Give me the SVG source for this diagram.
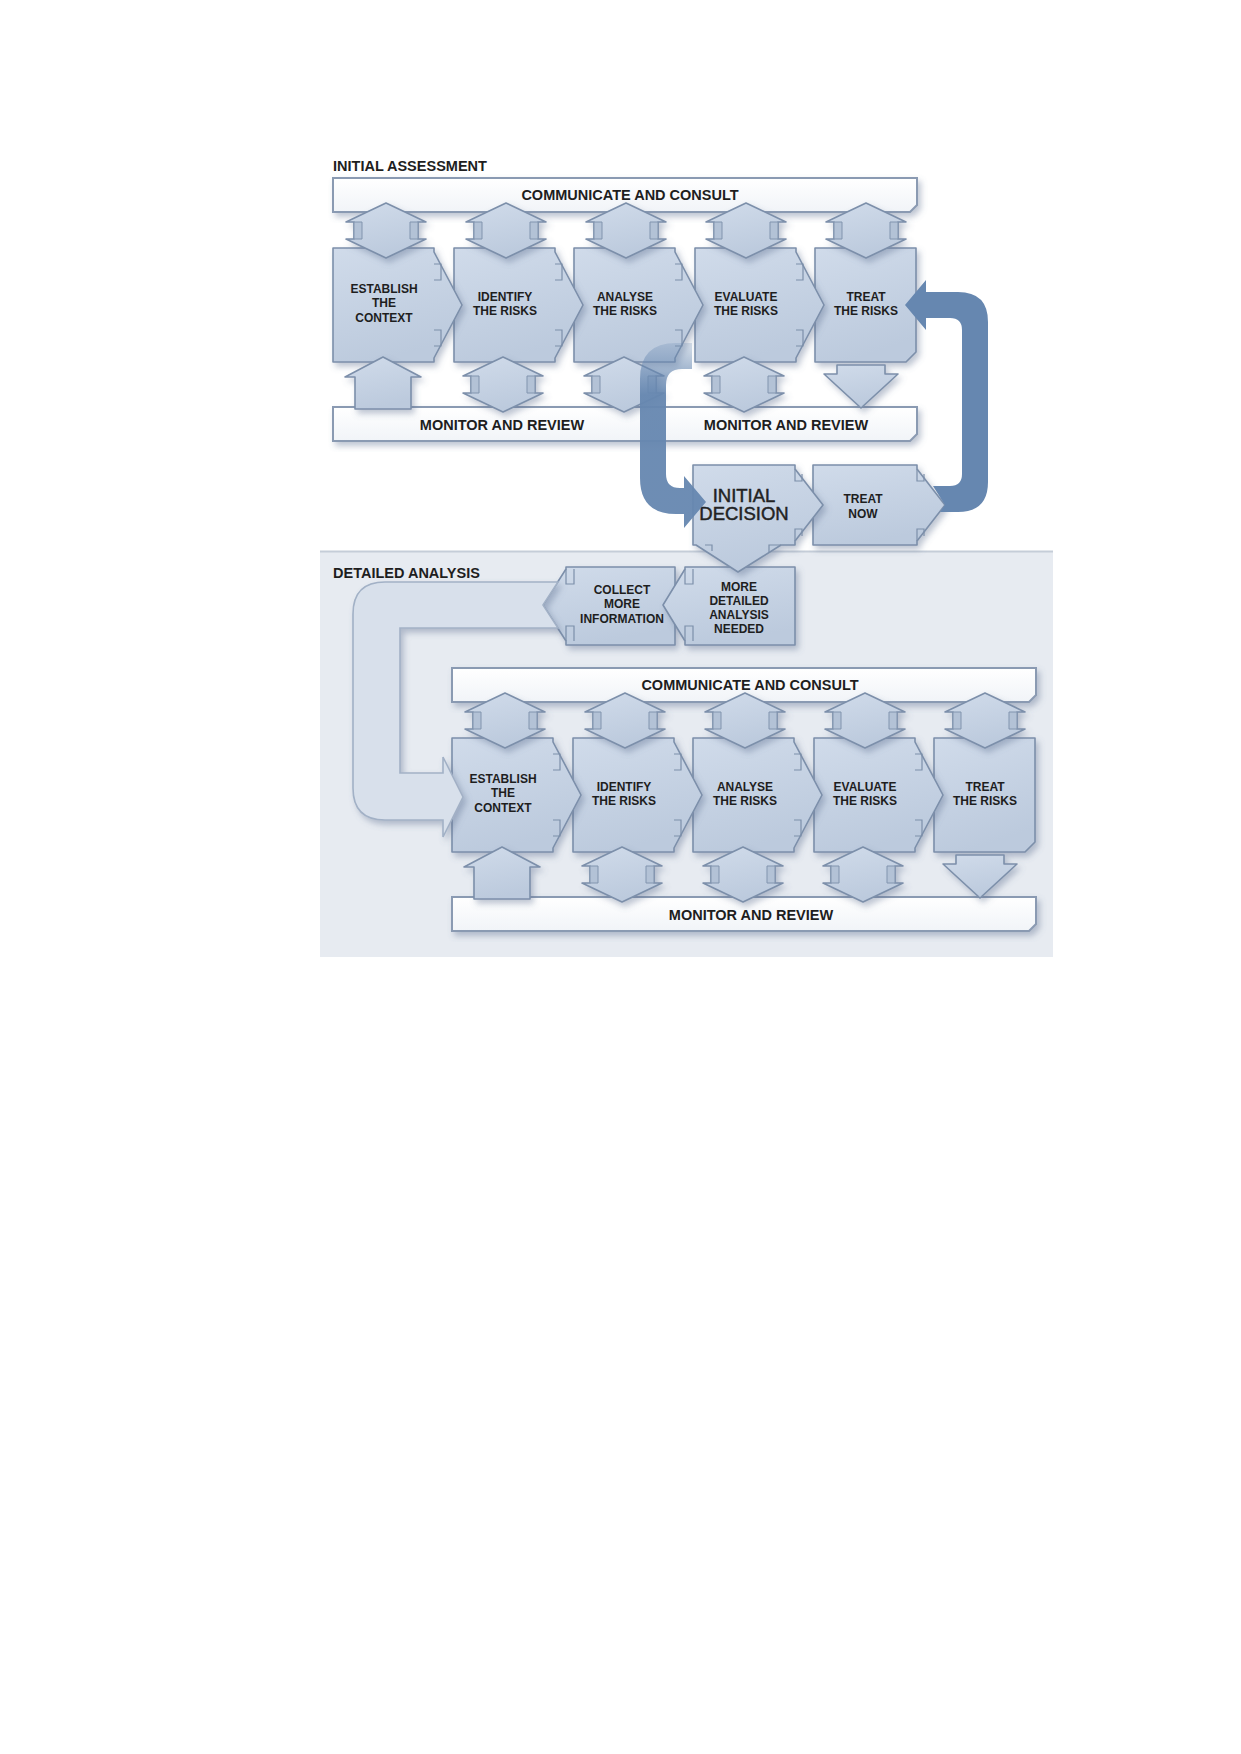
<svg xmlns="http://www.w3.org/2000/svg" xmlns:xlink="http://www.w3.org/1999/xlink" width="1241" height="1754" viewBox="0 0 1241 1754">
<defs>
  <style>
    .box{fill:url(#boxGrad);stroke:#7c8faa;stroke-width:1.6;stroke-linejoin:round}
    .tab{fill:none;stroke:#7c8faa;stroke-width:1.2}
    .tabf{fill:#b3c2d6;stroke:#8194ae;stroke-width:1}
    .band{fill:url(#bandGrad);stroke:#8a9ab2;stroke-width:2}
    .sh{filter:url(#shadow)}
    .t{font-family:"Liberation Sans",Arial,sans-serif;font-weight:bold;fill:#1e1e1e;text-anchor:middle}
    .s{font-size:12px}
    .b{font-size:14.5px}
    .h{font-size:14.5px;text-anchor:start}
    .big{font-size:18.5px;font-weight:normal;fill:#222;stroke:#222;stroke-width:0.45}
    .blue{fill:#6687b0}
    .uarr{fill:#d8e0eb;stroke:#a2b1c6;stroke-width:1.6}
  </style>
  <linearGradient id="boxGrad" x1="0" y1="0" x2="0.3" y2="1">
    <stop offset="0" stop-color="#d0dbea"/>
    <stop offset="1" stop-color="#bccadd"/>
  </linearGradient>
  <linearGradient id="bandGrad" x1="0" y1="0" x2="0" y2="1">
    <stop offset="0" stop-color="#ffffff"/>
    <stop offset="1" stop-color="#f1f4f8"/>
  </linearGradient>
  <linearGradient id="fadeBlue" gradientUnits="userSpaceOnUse" x1="0" y1="340" x2="0" y2="395">
    <stop offset="0" stop-color="#6687b0" stop-opacity="0.2"/>
    <stop offset="1" stop-color="#6687b0" stop-opacity="0.95"/>
  </linearGradient>
  <filter id="shadow" x="-20%" y="-20%" width="150%" height="150%">
    <feDropShadow dx="3" dy="4" stdDeviation="3" flood-color="#5b6f8e" flood-opacity="0.4"/>
  </filter>
  <path id="procShape" d="M0,0 H101 V4 L129,57 L101,110 V114 H0 Z"/>
  <path id="procTabs" d="M101,16 H108 V32 H101 M101,82 H108 V98 H101"/>
  <path id="lastShape" d="M0,0 H101 V104 L91,114 H0 Z"/>
  <path id="dbl" d="M0,0 L40,19 H32 V36 H40 L0,55 L-40,36 H-32 V19 H-40 Z"/>
  <path id="dblTabs" d="M-32,19 H-24 V36 H-32 Z M24,19 H32 V36 H24 Z"/>
  <path id="upArr" d="M0,0 L38,20 H28 V52 H-28 V20 H-38 Z"/>
  <path id="downArr" d="M-24,0 H24 V9 H37 L0,43 L-37,9 H-24 Z"/>
  <path id="bandShape" d="M0,0 H584 V27 L577,34 H0 Z"/>
</defs>

<rect width="1241" height="1754" fill="#ffffff"/>

<!-- Detailed analysis panel -->
<g id="panel-detailed">
  <rect x="320" y="551" width="733" height="406" fill="#e7ebf1"/>
  <line x1="320" y1="551.5" x2="1053" y2="551.5" stroke="#c5cdd8" stroke-width="2"/>
</g>

<text class="t h" x="333" y="171">INITIAL ASSESSMENT</text>
<text class="t h" x="333" y="578">DETAILED ANALYSIS</text>

<!-- ===== Row 1 : Initial assessment ===== -->
<g id="ia-communicate">
  <use href="#bandShape" x="333" y="178" class="band sh"/>
  <text class="t b" x="630" y="200">COMMUNICATE AND CONSULT</text>
</g>
<g id="ia-monitor">
  <use href="#bandShape" x="333" y="407" class="band sh"/>
  <text class="t b" x="502" y="430">MONITOR AND REVIEW</text>
  <text class="t b" x="786" y="430">MONITOR AND REVIEW</text>
</g>

<g id="ia-treat">
  <use href="#lastShape" x="815" y="248" class="box sh"/>
  <text class="t s" x="866" y="301">TREAT</text>
  <text class="t s" x="866" y="315">THE RISKS</text>
</g>
<g id="ia-evaluate">
  <use href="#procShape" x="695" y="248" class="box sh"/>
  <use href="#procTabs" x="695" y="248" class="tab"/>
  <text class="t s" x="746" y="301">EVALUATE</text>
  <text class="t s" x="746" y="315">THE RISKS</text>
</g>
<g id="ia-analyse">
  <use href="#procShape" x="574" y="248" class="box sh"/>
  <use href="#procTabs" x="574" y="248" class="tab"/>
  <text class="t s" x="625" y="301">ANALYSE</text>
  <text class="t s" x="625" y="315">THE RISKS</text>
</g>
<g id="ia-identify">
  <use href="#procShape" x="454" y="248" class="box sh"/>
  <use href="#procTabs" x="454" y="248" class="tab"/>
  <text class="t s" x="505" y="301">IDENTIFY</text>
  <text class="t s" x="505" y="315">THE RISKS</text>
</g>
<g id="ia-establish">
  <use href="#procShape" x="333" y="248" class="box sh"/>
  <use href="#procTabs" x="333" y="248" class="tab"/>
  <text class="t s" x="384" y="293">ESTABLISH</text>
  <text class="t s" x="384" y="307">THE</text>
  <text class="t s" x="384" y="322">CONTEXT</text>
</g>

<g id="ia-arrows">
  <use href="#dbl" x="386" y="203" class="box sh"/><use href="#dblTabs" x="386" y="203" class="tabf"/>
  <use href="#dbl" x="506" y="203" class="box sh"/><use href="#dblTabs" x="506" y="203" class="tabf"/>
  <use href="#dbl" x="626" y="203" class="box sh"/><use href="#dblTabs" x="626" y="203" class="tabf"/>
  <use href="#dbl" x="746" y="203" class="box sh"/><use href="#dblTabs" x="746" y="203" class="tabf"/>
  <use href="#dbl" x="866" y="203" class="box sh"/><use href="#dblTabs" x="866" y="203" class="tabf"/>
  <use href="#upArr" x="383" y="357" class="box sh"/>
  <use href="#dbl" x="503" y="357" class="box sh"/><use href="#dblTabs" x="503" y="357" class="tabf"/>
  <use href="#dbl" x="624" y="357" class="box sh"/><use href="#dblTabs" x="624" y="357" class="tabf"/>
  <use href="#dbl" x="744" y="357" class="box sh"/><use href="#dblTabs" x="744" y="357" class="tabf"/>
  <use href="#downArr" x="861" y="365" class="box sh"/>
</g>

<!-- ===== Decision nodes ===== -->
<g id="collect-more-info">
  <path class="box sh" d="M675,567 V645 H566 V641 L543,605 L566,569 V567 Z"/>
  <path class="tab" d="M566,569 V584 H574 V569 M566,641 V626 H574 V641"/>
  <text class="t s" x="622" y="594">COLLECT</text>
  <text class="t s" x="622" y="608">MORE</text>
  <text class="t s" x="622" y="623">INFORMATION</text>
</g>
<g id="more-detailed">
  <path class="box sh" d="M795,567 V645 H685 V641 L663,605 L685,569 V567 Z"/>
  <path class="tab" d="M685,569 V584 H693 V569 M685,641 V626 H693 V641"/>
  <text class="t s" x="739" y="591">MORE</text>
  <text class="t s" x="739" y="605">DETAILED</text>
  <text class="t s" x="739" y="619">ANALYSIS</text>
  <text class="t s" x="739" y="633">NEEDED</text>
</g>
<g id="treat-now">
  <path class="box sh" d="M813,465 H917 V469 L945,505 L917,541 V545 H813 Z"/>
  <path class="tab" d="M917,469 V481 H924 V474 M917,541 V529 H924 V536"/>
  <text class="t s" x="863" y="503">TREAT</text>
  <text class="t s" x="863" y="518">NOW</text>
</g>
<g id="initial-decision">
  <path class="box sh" d="M693,465 H795 V469 L823,505 L795,541 V545 H781 L738,572 L696,545 H693 Z"/>
  <path class="tab" d="M795,469 V481 H802 V474 M795,541 V529 H802 V536 M781,545 H769 V552 M705,545 H712 V551"/>
  <text class="t big" x="744" y="502">INITIAL</text>
  <text class="t big" x="744" y="520">DECISION</text>
</g>

<!-- ===== Row 2 : Detailed analysis ===== -->
<g id="da-communicate">
  <use href="#bandShape" x="452" y="668" class="band sh"/>
  <text class="t b" x="750" y="690">COMMUNICATE AND CONSULT</text>
</g>
<g id="da-monitor">
  <use href="#bandShape" x="452" y="897" class="band sh"/>
  <text class="t b" x="751" y="920">MONITOR AND REVIEW</text>
</g>

<g id="da-treat">
  <use href="#lastShape" x="934" y="738" class="box sh"/>
  <text class="t s" x="985" y="791">TREAT</text>
  <text class="t s" x="985" y="805">THE RISKS</text>
</g>
<g id="da-evaluate">
  <use href="#procShape" x="814" y="738" class="box sh"/>
  <use href="#procTabs" x="814" y="738" class="tab"/>
  <text class="t s" x="865" y="791">EVALUATE</text>
  <text class="t s" x="865" y="805">THE RISKS</text>
</g>
<g id="da-analyse">
  <use href="#procShape" x="693" y="738" class="box sh"/>
  <use href="#procTabs" x="693" y="738" class="tab"/>
  <text class="t s" x="745" y="791">ANALYSE</text>
  <text class="t s" x="745" y="805">THE RISKS</text>
</g>
<g id="da-identify">
  <use href="#procShape" x="573" y="738" class="box sh"/>
  <use href="#procTabs" x="573" y="738" class="tab"/>
  <text class="t s" x="624" y="791">IDENTIFY</text>
  <text class="t s" x="624" y="805">THE RISKS</text>
</g>
<g id="da-establish">
  <use href="#procShape" x="452" y="738" class="box sh"/>
  <use href="#procTabs" x="452" y="738" class="tab"/>
  <text class="t s" x="503" y="783">ESTABLISH</text>
  <text class="t s" x="503" y="797">THE</text>
  <text class="t s" x="503" y="812">CONTEXT</text>
</g>

<g id="da-arrows">
  <use href="#dbl" x="505" y="693" class="box sh"/><use href="#dblTabs" x="505" y="693" class="tabf"/>
  <use href="#dbl" x="625" y="693" class="box sh"/><use href="#dblTabs" x="625" y="693" class="tabf"/>
  <use href="#dbl" x="745" y="693" class="box sh"/><use href="#dblTabs" x="745" y="693" class="tabf"/>
  <use href="#dbl" x="865" y="693" class="box sh"/><use href="#dblTabs" x="865" y="693" class="tabf"/>
  <use href="#dbl" x="985" y="693" class="box sh"/><use href="#dblTabs" x="985" y="693" class="tabf"/>
  <use href="#upArr" x="502" y="847" class="box sh"/>
  <use href="#dbl" x="622" y="847" class="box sh"/><use href="#dblTabs" x="622" y="847" class="tabf"/>
  <use href="#dbl" x="743" y="847" class="box sh"/><use href="#dblTabs" x="743" y="847" class="tabf"/>
  <use href="#dbl" x="863" y="847" class="box sh"/><use href="#dblTabs" x="863" y="847" class="tabf"/>
  <use href="#downArr" x="980" y="855" class="box sh"/>
</g>

<!-- ===== Connectors ===== -->
<g id="connectors">
  <path id="to-initial-decision" fill="url(#fadeBlue)" d="M692,343 H676 Q640,343 640,379 V478 Q640,514 676,514 H684 V528 L706,502 L684,476 V488 H680 Q666,488 666,474 V385 Q666,369 682,369 H692 Z"/>
  <path id="treat-now-to-treat" class="blue" d="M933,486 H950 Q962,486 962,474 V330 Q962,318 950,318 H926 V330 L905,305 L926,280 V292 H958 Q988,292 988,322 V482 Q988,512 958,512 H940 L945,505 Z"/>
  <path id="collect-to-establish" class="uarr sh" d="M558,582 H385 Q353,582 353,614 V788 Q353,820 385,820 H443 V837 L463,797 L443,757 V773 H400 V628 H558 L543,605 Z"/>
</g>
</svg>
